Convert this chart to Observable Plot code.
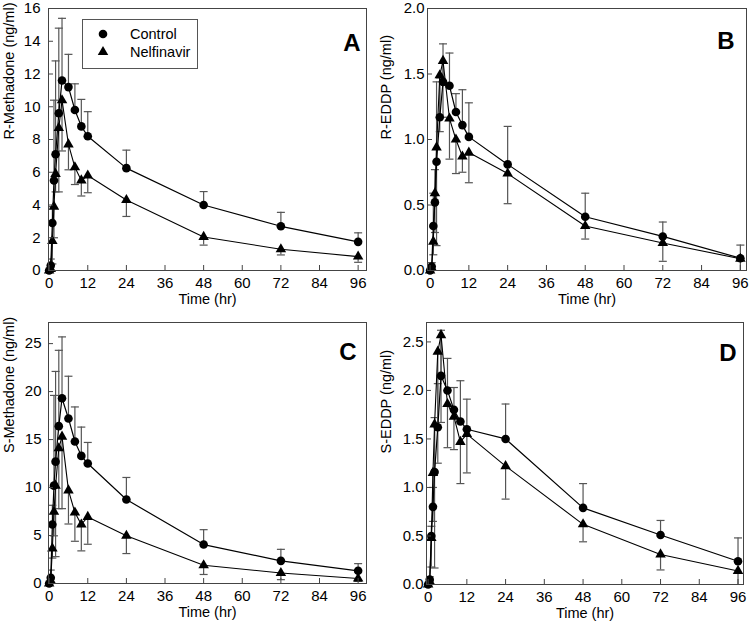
<!DOCTYPE html>
<html><head><meta charset="utf-8">
<script src="https://cdn.jsdelivr.net/npm/d3@7"></script>
<script src="https://cdn.jsdelivr.net/npm/@observablehq/plot@0.6"></script>
<style>
body{margin:0;background:#fff;font-family:"Liberation Sans",Arial,sans-serif;}
#wrap{position:relative;width:750px;height:630px;overflow:hidden;}
.panel{position:absolute;}
#legend{position:absolute;left:82px;top:19px;}
</style></head><body><div id="wrap"></div>
<script>
// Sampling times (hr)
const time = [0, 0.5, 1, 1.5, 2, 3, 4, 6, 8, 10, 12, 24, 48, 72, 96];
const xTicks = [0, 12, 24, 36, 48, 60, 72, 84, 96];
const seriesNames = ["Control", "Nelfinavir"];

// Panel A: R-Methadone
const rMethControl   = [0, 0.3, 2.9, 5.5, 7.1, 9.6, 11.6, 11.2, 9.8, 8.8, 8.2, 6.25, 4.0, 2.7, 1.75];
const rMethControlSD = [0, 0.4, 1.0, 4.9, 5.7, 5.2, 3.8, 2.0, 1.6, 1.65, 1.5, 1.1, 0.82, 0.85, 0.55];
const rMethNelf      = [0, 0.1, 1.8, 3.9, 5.9, 8.7, 10.4, 7.7, 6.3, 5.5, 5.8, 4.3, 2.05, 1.3, 0.85];
const rMethNelfSD    = [0, 0.1, 1.4, 1.9, 1.1, 3.9, 3.1, 1.55, 1.05, 0.95, 1.05, 1.0, 0.5, 0.35, 0.35];

// Panel B: R-EDDP
const rEddpControl   = [0, 0.03, 0.34, 0.52, 0.83, 1.17, 1.44, 1.41, 1.21, 1.11, 1.02, 0.81, 0.41, 0.26, 0.094];
const rEddpControlSD = [0, 0.03, 0.25, 0.25, 0.61, 0.3, 0.29, 0.25, 0.14, 0.27, 0.26, 0.29, 0.18, 0.11, 0.1];
const rEddpNelf      = [0, 0.02, 0.22, 0.59, 0.94, 1.49, 1.6, 1.16, 1.0, 0.87, 0.9, 0.74, 0.34, 0.21, 0.09];
const rEddpNelfSD    = [0, 0.02, 0.1, 0.3, 0.75, 0.43, 0.43, 0.31, 0.26, 0.12, 0.23, 0.23, 0.1, 0.14, 0.12];

// Panel C: S-Methadone
const sMethControl   = [0, 0.6, 6.15, 10.2, 12.7, 16.4, 19.3, 17.2, 14.8, 13.3, 12.5, 8.75, 4.06, 2.36, 1.32];
const sMethControlSD = [0, 0.8, 2.0, 9.4, 9.4, 7.9, 6.4, 4.4, 3.6, 3.0, 2.2, 2.3, 1.55, 1.2, 0.75];
const sMethNelf      = [0, 0.3, 3.65, 7.47, 10.2, 14.1, 15.3, 9.7, 7.4, 6.15, 6.94, 4.97, 1.9, 1.1, 0.52];
const sMethNelfSD    = [0, 0.3, 1.0, 2.5, 7.4, 6.3, 7.5, 3.5, 3.0, 2.75, 2.85, 1.85, 0.96, 0.7, 0.3];

// Panel D: S-EDDP
const sEddpControl   = [0, 0.05, 0.5, 0.8, 1.16, 1.62, 2.15, 2.0, 1.8, 1.68, 1.6, 1.5, 0.79, 0.51, 0.24];
const sEddpControlSD = [0, 0.03, 0.1, 0.2, 0.56, 0.45, 0.47, 0.33, 0.23, 0.42, 0.31, 0.36, 0.25, 0.15, 0.24];
const sEddpNelf      = [0, 0.03, 0.48, 1.15, 1.65, 2.4, 2.57, 1.86, 1.73, 1.47, 1.55, 1.22, 0.62, 0.31, 0.14];
const sEddpNelfSD    = [0, 0.03, 0.3, 0.5, 1.48, 1.15, 0.9, 0.45, 0.34, 0.43, 0.4, 0.34, 0.18, 0.16, 0.15];

const panels = [
  {id:"A", left:0, top:0, ylabel:"R-Methadone (ng/ml)", yDomain:[0,16], yTicks:[0,2,4,6,8,10,12,14,16], fmt:d3.format("d"),
   xDomain:[-0.2,98.6], mL:48, mR:9, mT:8, mB:45, pad:8, ylx:-39, lx:-6, ly:25,
   c:rMethControl, cSD:rMethControlSD, n:rMethNelf, nSD:rMethNelfSD},
  {id:"B", left:375, top:0, ylabel:"R-EDDP (ng/ml)", yDomain:[0,2], yTicks:[0,0.5,1,1.5,2], fmt:d3.format(".1f"),
   xDomain:[-0.8,97.9], mL:52, mR:4, mT:8, mB:45, pad:3, ylx:-41, lx:-12, ly:23,
   c:rEddpControl, cSD:rEddpControlSD, n:rEddpNelf, nSD:rEddpNelfSD},
  {id:"C", left:0, top:315, ylabel:"S-Methadone (ng/ml)", yDomain:[0,27.2], yTicks:[0,5,10,15,20,25], fmt:d3.format("d"),
   xDomain:[-0.2,98.6], mL:48, mR:9, mT:7, mB:47, pad:7, ylx:-39, lx:-10, ly:20,
   c:sMethControl, cSD:sMethControlSD, n:sMethNelf, nSD:sMethNelfSD},
  {id:"D", left:375, top:315, ylabel:"S-EDDP (ng/ml)", yDomain:[0,2.7], yTicks:[0,0.5,1,1.5,2,2.5], fmt:d3.format(".1f"),
   xDomain:[-0.5,97.7], mL:51, mR:7, mT:7, mB:46, pad:3, ylx:-40, lx:-7, ly:21,
   c:sEddpControl, cSD:sEddpControlSD, n:sEddpNelf, nSD:sEddpNelfSD}
];

const capSymbol = {draw(ctx){ ctx.moveTo(-4, 0); ctx.lineTo(4, 0); }};
const wrap = document.getElementById("wrap");

for (const p of panels) {
  const ctrl = time.map((t, i) => ({t, v: p.c[i], e: p.c[i] + p.cSD[i], sd: p.cSD[i], g: seriesNames[0]}));
  const nelf = time.map((t, i) => ({t, v: p.n[i], e: p.n[i] - p.nSD[i], sd: p.nSD[i], g: seriesNames[1]}));
  const bars = ctrl.concat(nelf).filter(d => d.sd > 0);
  const errStroke = "#555";
  const chart = Plot.plot({
    width: 375, height: 315,
    marginLeft: p.mL, marginRight: p.mR, marginTop: p.mT, marginBottom: p.mB,
    x: {domain: p.xDomain},
    y: {domain: p.yDomain},
    style: {fontFamily: "'Liberation Sans', Arial, sans-serif", fontSize: "15px", color: "#000", background: "transparent", overflow: "visible"},
    marks: [
      Plot.ruleX(bars, {x: "t", y1: "v", y2: "e", stroke: errStroke, strokeWidth: 1.2, clip: true}),
      Plot.dot(bars, {x: "t", y: "e", symbol: capSymbol, stroke: errStroke, strokeWidth: 1.2, clip: true}),
      Plot.line(ctrl, {x: "t", y: "v", stroke: "#000", strokeWidth: 1.2}),
      Plot.line(nelf, {x: "t", y: "v", stroke: "#000", strokeWidth: 1.1}),
      Plot.dot(ctrl, {x: "t", y: "v", symbol: "circle", r: 4.3, fill: "#000", stroke: "none"}),
      Plot.dot(nelf, {x: "t", y: "v", symbol: "triangle", r: 3.9, fill: "#000", stroke: "none"}),
      Plot.frame({stroke: "#444", strokeWidth: 1}),
      Plot.axisX({ticks: xTicks, tickSize: 5, dy: -5, text: null, label: null, stroke: "#444"}),
      Plot.axisX({ticks: xTicks, tickSize: 0, tickPadding: 7, label: null, tickFormat: d3.format("d"), fontSize: 15}),
      Plot.axisY({ticks: p.yTicks, tickSize: 5, dx: 5, text: null, label: null, stroke: "#444"}),
      Plot.axisY({ticks: p.yTicks, tickSize: 0, tickPadding: p.pad, label: null, tickFormat: p.fmt, fontSize: 15}),
      Plot.text(["Time (hr)"], {frameAnchor: "bottom", dy: 33, fontSize: 14.5, fill: "#000"}),
      Plot.text([p.ylabel], {frameAnchor: "left", dx: p.ylx, rotate: -90, fontSize: 14.5, fill: "#000"}),
      Plot.text([p.id], {frameAnchor: "top-right", textAnchor: "end", dx: p.lx, dy: p.ly, fontSize: 24, fontWeight: "bold", fill: "#000"})
    ]
  });
  chart.classList.add("panel");
  chart.style.left = p.left + "px";
  chart.style.top = p.top + "px";
  wrap.appendChild(chart);
}

// Legend (panel A)
const legend = document.createElement("div");
legend.id = "legend";
legend.innerHTML = `<svg width="116" height="50" xmlns="http://www.w3.org/2000/svg" style="font-family:'Liberation Sans',Arial,sans-serif">
  <rect x="0.5" y="0.5" width="115" height="49" fill="#fff" stroke="#555" stroke-width="1"/>
  <circle cx="21" cy="15" r="4.3" fill="#000"/>
  <path d="${d3.symbol(d3.symbolTriangle, Math.PI * 3.9 * 3.9)()}" transform="translate(21,33)" fill="#000"/>
  <text x="48" y="15" dy="0.35em" font-size="14.5" fill="#000">${seriesNames[0]}</text>
  <text x="48" y="33" dy="0.35em" font-size="14.5" fill="#000">${seriesNames[1]}</text>
</svg>`;
wrap.appendChild(legend);
</script>
</body></html>
